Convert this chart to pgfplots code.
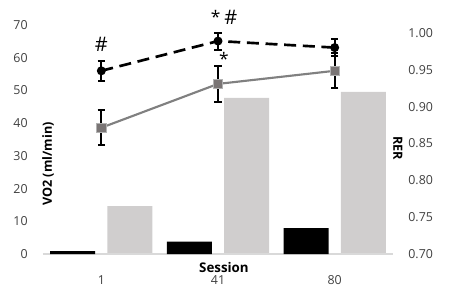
\documentclass[border=0pt]{standalone}
\usepackage{pgfplots}
\pgfplotsset{compat=1.18}
\usepackage{fontspec}
\setmainfont{Open Sans}
\definecolor{barblack}{HTML}{000000}
\definecolor{bargray}{HTML}{D0CECE}
\definecolor{linegray}{HTML}{808080}
\definecolor{mkgray}{HTML}{7A7575}
\definecolor{ticktxt}{HTML}{404040}
\definecolor{axgray}{HTML}{D9D9D9}
\begin{document}
\begin{tikzpicture}
\useasboundingbox (-32.25pt,-33pt) rectangle (315.75pt,190.5pt);
\pgfplotsset{
  common/.style={
    width=262.5pt, height=171.75pt, scale only axis,
    xmin=-0.5, xmax=2.5,
    xtick={0,1,2}, xticklabels={1,41,80},
    major tick length=0pt,
    tick style={draw=none},
    /pgf/number format/assume math mode=true,
    ticklabel style={font=\fontsize{9.3}{10}\selectfont, text=ticktxt},
  }
}
% right axis: RER bars
\begin{axis}[common,
  axis x line=none,
  axis y line*=right,
  y axis line style={draw=none},
  ymin=0.70, ymax=1.0109,
  ytick={0.70,0.75,0.80,0.85,0.90,0.95,1.00},
  yticklabel style={/pgf/number format/.cd, fixed, fixed zerofill, precision=2, /tikz/.cd, xshift=8pt},
]
\addplot[ybar, bar width=33.75pt, bar shift=0pt, fill=bargray, draw=none]
  coordinates {(0.245,0.765) (1.245,0.912) (2.245,0.920)};
\end{axis}
% left axis
\begin{axis}[common,
  clip=false,
  axis x line*=bottom,
  axis y line*=left,
  x axis line style={draw=axgray, line width=0.8pt, -},
  y axis line style={draw=none},
  ymin=0, ymax=70,
  ytick={0,10,20,30,40,50,60,70},
  yticklabel style={xshift=-8pt},
  xticklabel style={anchor=center, yshift=-19.5pt},
]
\addplot[ybar, bar width=33.75pt, bar shift=0pt, fill=barblack, draw=none]
  coordinates {(-0.245,0.9) (0.755,3.8) (1.755,7.9)};
% VO2 gray line
\addplot[color=linegray, line width=1.6pt,
  mark=square*, mark size=3.6pt, mark options={fill=mkgray, draw=gray!60, line width=0.5pt},
  error bars/.cd, y dir=both, y explicit,
  error bar style={black, line width=1.5pt},
  error mark options={black, line width=1.5pt, mark size=2.8pt, rotate=90}]
  coordinates {(0,38.6) +- (0,5.3) (1,52.0) +- (0,5.6) (2,56.0) +- (0,5.4)};
% dashed black line
\addplot[color=black, line width=2pt, dash pattern=on 9pt off 5pt,
  mark=*, mark size=2.3pt, mark options={solid, fill=black},
  error bars/.cd, y dir=both, y explicit,
  error bar style={solid, black, line width=1.5pt},
  error mark options={solid, black, line width=1.5pt, mark size=2.8pt, rotate=90}]
  coordinates {(0,56.0) +- (0,3.0) (1,65.1) +- (0,2.6) (2,63.1) +- (0,2.5)};
% annotations
\node[font=\fontsize{15}{16}\selectfont] at (axis cs:0,64) {\#};
\node[font=\fontsize{13}{14}\selectfont] at (axis cs:0.98,72.5) {*};
\node[font=\fontsize{15}{16}\selectfont] at (axis cs:1.11,72.2) {\#};
\node[font=\fontsize{13}{14}\selectfont] at (axis cs:1.05,59.7) {*};
% axis titles
\node[rotate=90, font=\bfseries\fontsize{9.5}{10}\selectfont] at (rel axis cs:0.0143,0.393) {VO2 (ml/min)};
\node[rotate=-90, font=\bfseries\fontsize{9.5}{10}\selectfont] at (rel axis cs:1.0143,0.463) {RER};
\node[font=\bfseries\fontsize{10}{11}\selectfont] at (rel axis cs:0.517,-0.061) {Session};
\end{axis}
\end{tikzpicture}
\end{document}
